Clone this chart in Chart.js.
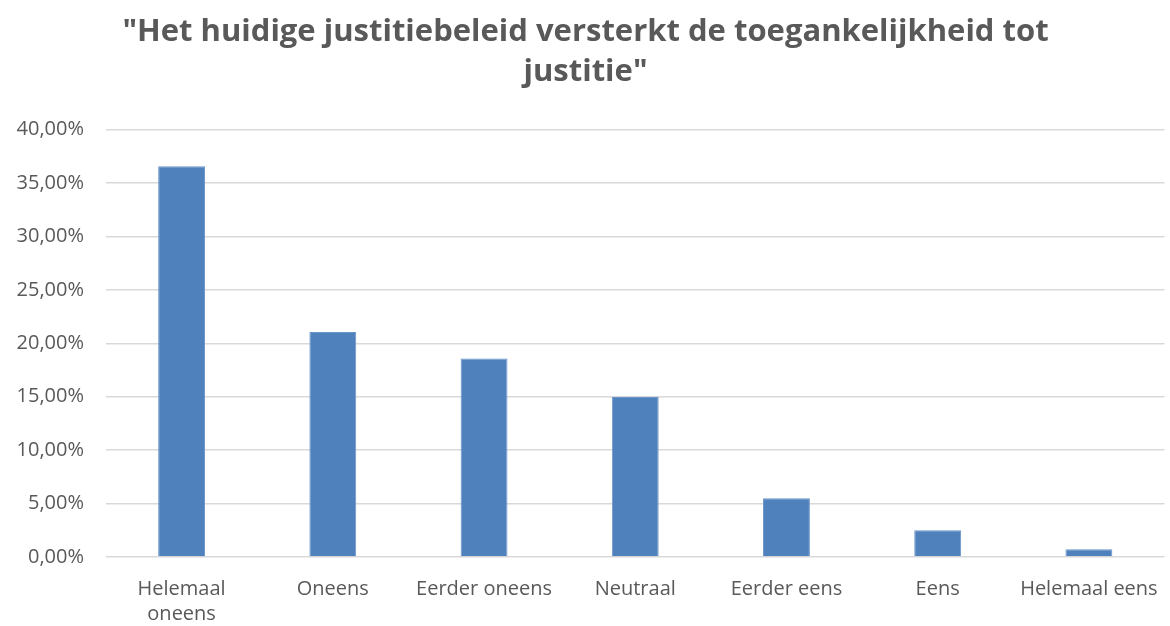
<!DOCTYPE html>
<html>
<head>
<meta charset="utf-8">
<script src="https://cdn.jsdelivr.net/npm/chart.js@4.4.1/dist/chart.umd.min.js"></script>
<style>
  html, body { margin: 0; padding: 0; background: #fff; }
  #wrap { width: 1170px; height: 626px; }
</style>
</head>
<body>
<div id="wrap"><canvas id="myChart" width="1170" height="626"></canvas></div>
<script>
const categories = [['Helemaal', 'oneens'], 'Oneens', 'Eerder oneens', 'Neutraal', 'Eerder eens', 'Eens', 'Helemaal eens'];
const percentages = [36.57, 21.06, 18.57, 14.97, 5.50, 2.50, 0.72];
const titleLines = ['"Het huidige justitiebeleid versterkt de toegankelijkheid tot', 'justitie"'];

const ctx = document.getElementById('myChart');
new Chart(ctx, {
    type: 'bar',
    data: {
        labels: categories,
        datasets: [{
            label: 'Percentage',
            data: percentages,
            backgroundColor: '#4f81bd',
            borderColor: '#6a95c9',
            borderWidth: 1,
            barPercentage: 0.31,
            categoryPercentage: 1
        }]
    },
    options: {
        responsive: false,
        animation: false,
        layout: {
            padding: { left: 6, right: 5, top: 0, bottom: 0 }
        },
        plugins: {
            legend: { display: false },
            tooltip: { enabled: false },
            title: {
                display: true,
                text: titleLines,
                color: '#595959',
                font: { family: 'Open Sans', size: 31, weight: 'bold', lineHeight: 1.3 },
                padding: { top: 12, bottom: 37 }
            }
        },
        scales: {
            x: {
                afterFit: function (scale) {
                    scale.height = 69;
                },
                grid: { display: false },
                border: { display: false },
                ticks: {
                    color: '#595959',
                    font: { family: 'Open Sans', size: 20, lineHeight: 1.25 },
                    maxRotation: 0,
                    autoSkip: false,
                    padding: 12
                }
            },
            y: {
                min: 0,
                max: 40,
                afterFit: function (scale) {
                    scale.width = 100;
                },
                grid: { color: '#d9d9d9', lineWidth: 1.5, drawTicks: false },
                border: { display: false },
                ticks: {
                    stepSize: 5,
                    color: '#595959',
                    font: { family: 'Open Sans', size: 20 },
                    padding: 22,
                    callback: function (value) {
                        return value.toFixed(2).replace('.', ',') + '%';
                    }
                }
            }
        }
    }
});
</script>
</body>
</html>
